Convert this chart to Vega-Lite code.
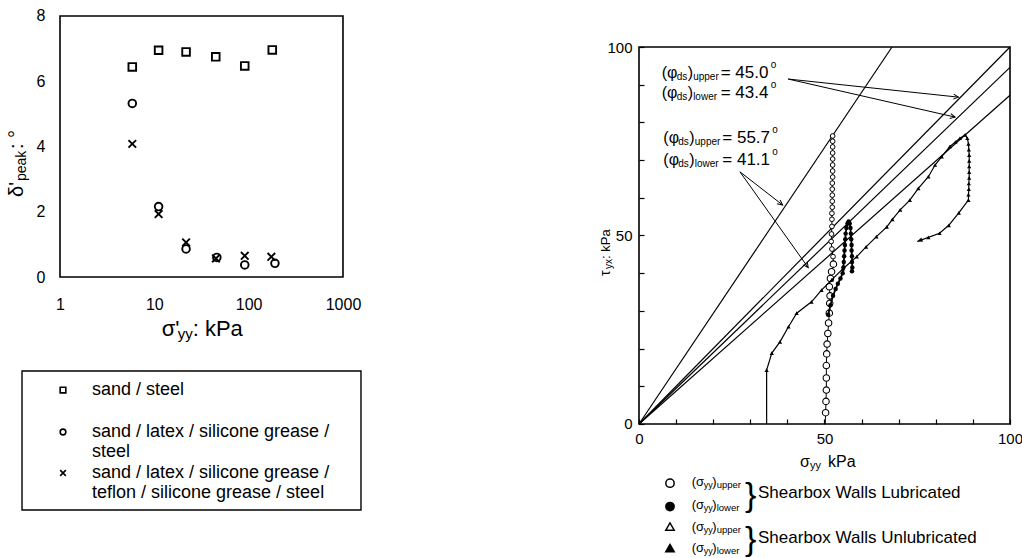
{
"$schema": "https://vega.github.io/schema/vega-lite/v6.json",
"background": "white",
"padding": 0,
"spacing": 0,
"bounds": "flush",
"resolve": {"scale": {"shape": "independent", "fill": "independent", "color": "independent"}},
"config": {"font": "Liberation Sans", "view": {"stroke": null}, "axis": {"labelColor": "black", "labelFont": "Liberation Sans"}, "text": {"color": "black"}},
"datasets": {
"leftFrame": [{"x": 1, "x2": 1000, "y": 0, "y2": 8}],
"leftPts": [
{"series": "steel", "x": 5.84, "y": 6.44}, {"series": "steel", "x": 11.1, "y": 6.95}, {"series": "steel", "x": 21.7, "y": 6.9}, {"series": "steel", "x": 44.8, "y": 6.75}, {"series": "steel", "x": 90.9, "y": 6.47}, {"series": "steel", "x": 178, "y": 6.96},
{"series": "latex", "x": 5.84, "y": 5.32}, {"series": "latex", "x": 11.1, "y": 2.16}, {"series": "latex", "x": 21.7, "y": 0.86}, {"series": "latex", "x": 46, "y": 0.6}, {"series": "latex", "x": 90.9, "y": 0.37}, {"series": "latex", "x": 190, "y": 0.42},
{"series": "teflon", "x": 5.84, "y": 4.08}, {"series": "teflon", "x": 11.1, "y": 1.93}, {"series": "teflon", "x": 21.7, "y": 1.06}, {"series": "teflon", "x": 45, "y": 0.57}, {"series": "teflon", "x": 90.9, "y": 0.65}, {"series": "teflon", "x": 174, "y": 0.62}
],
"leftLegBox": [{"x": 0.3957, "x2": 1552, "y": -2.881, "y2": -7.142}],
"leftLegSym": [{"series": "steel", "x": 1.076, "y": -3.464}, {"series": "latex", "x": 1.076, "y": -4.751}, {"series": "teflon", "x": 1.076, "y": -6.008}],
"leftLegText": [
{"x": 2.184, "y": -3.464, "t": "sand / steel"},
{"x": 2.184, "y": -4.751, "t": "sand / latex / silicone grease /"},
{"x": 2.184, "y": -5.364, "t": "steel"},
{"x": 2.184, "y": -6.008, "t": "sand / latex / silicone grease /"},
{"x": 2.184, "y": -6.621, "t": "teflon / silicone grease / steel"}
],
"leftYTitle": [{"x": 0.35, "y": 2.452}],
"leftXTitle": [{"x": 11.97, "y": -1.6}],
"rFrame": [{"x": 0, "x2": 100, "y": 0, "y2": 100}],
"rLines": [
{"phi": "45.0", "x": 0, "y": 0, "x2": 100, "y2": 100},
{"phi": "43.4", "x": 0, "y": 0, "x2": 100, "y2": 94.6},
{"phi": "41.1", "x": 0, "y": 0, "x2": 100, "y2": 87.2},
{"phi": "55.7", "x": 0, "y": 0, "x2": 68.2, "y2": 100}
],
"rArrows": [
{"x": 40.2, "y": 91.5, "x2": 86.1, "y2": 86.7},
{"x": 40.2, "y": 91.5, "x2": 85.2, "y2": 81.4},
{"x": 27.2, "y": 66.9, "x2": 38.7, "y2": 58.1},
{"x": 27.2, "y": 66.9, "x2": 45.6, "y2": 41.5}
],
"rArrowHeads": [
{"x": 86.1, "y": 86.7, "dir": 6.0},
{"x": 85.2, "y": 81.4, "dir": 12.8},
{"x": 38.7, "y": 58.1, "dir": 38},
{"x": 45.6, "y": 41.5, "dir": 54.6}
],
"upperLub": [
{"o": 1, "x": 50.2, "y": 0}, {"o": 2, "x": 50.3, "y": 3}, {"o": 3, "x": 50.4, "y": 6}, {"o": 4, "x": 50.5, "y": 9}, {"o": 5, "x": 50.5, "y": 12.2}, {"o": 6, "x": 50.5, "y": 15.5}, {"o": 7, "x": 50.6, "y": 18.6}, {"o": 8, "x": 50.7, "y": 21.2}, {"o": 9, "x": 50.9, "y": 24}, {"o": 10, "x": 51.1, "y": 26.8}, {"o": 11, "x": 51.3, "y": 29.4}, {"o": 12, "x": 51.4, "y": 32}, {"o": 13, "x": 51.5, "y": 34}, {"o": 14, "x": 51.3, "y": 36.4}, {"o": 15, "x": 51.6, "y": 38.6}, {"o": 16, "x": 51.9, "y": 40.4}, {"o": 17, "x": 52.4, "y": 42.4}, {"o": 18, "x": 52.3, "y": 44.4}, {"o": 19, "x": 52.0, "y": 46.4}, {"o": 20, "x": 51.8, "y": 48.4}, {"o": 21, "x": 51.9, "y": 50.4}, {"o": 22, "x": 52.0, "y": 52.4}, {"o": 23, "x": 52.0, "y": 54.3}, {"o": 24, "x": 52.0, "y": 55.9}, {"o": 25, "x": 52.1, "y": 57.5}, {"o": 26, "x": 52.1, "y": 59.1}, {"o": 27, "x": 52.1, "y": 60.7}, {"o": 28, "x": 52.1, "y": 62.3}, {"o": 29, "x": 52.1, "y": 63.9}, {"o": 30, "x": 52.2, "y": 65.5}, {"o": 31, "x": 52.2, "y": 67.1}, {"o": 32, "x": 52.2, "y": 68.7}, {"o": 33, "x": 52.2, "y": 70.3}, {"o": 34, "x": 52.2, "y": 71.9}, {"o": 35, "x": 52.2, "y": 73.5}, {"o": 36, "x": 52.2, "y": 75.0}, {"o": 37, "x": 52.2, "y": 76.4}
],
"lowerLub": [
{"o": 1, "x": 51.0, "y": 29}, {"o": 2, "x": 51.6, "y": 31.5}, {"o": 3, "x": 52.3, "y": 34}, {"o": 4, "x": 53.0, "y": 35.8}, {"o": 5, "x": 53.6, "y": 37.2}, {"o": 6, "x": 54.3, "y": 38.6}, {"o": 7, "x": 54.9, "y": 40}, {"o": 8, "x": 55.1, "y": 41.5}, {"o": 9, "x": 55.2, "y": 43}, {"o": 10, "x": 55.3, "y": 44.5}, {"o": 11, "x": 55.4, "y": 46}, {"o": 12, "x": 55.5, "y": 47.5}, {"o": 13, "x": 55.6, "y": 49}, {"o": 14, "x": 55.7, "y": 50.5}, {"o": 15, "x": 55.9, "y": 52}, {"o": 16, "x": 56.2, "y": 53.2}, {"o": 17, "x": 56.5, "y": 53.7}, {"o": 18, "x": 56.8, "y": 53.2}, {"o": 19, "x": 57.0, "y": 52}, {"o": 20, "x": 57.1, "y": 50.5}, {"o": 21, "x": 57.2, "y": 49}, {"o": 22, "x": 57.3, "y": 47.5}, {"o": 23, "x": 57.3, "y": 46}, {"o": 24, "x": 57.4, "y": 44.5}, {"o": 25, "x": 57.4, "y": 43}, {"o": 26, "x": 57.5, "y": 41.5}, {"o": 27, "x": 57.4, "y": 40.5}
],
"lowerUnlub": [
{"o": 1, "x": 34.4, "y": 0}, {"o": 2, "x": 34.4, "y": 14.3}, {"o": 3, "x": 35.8, "y": 18.8}, {"o": 4, "x": 38.0, "y": 21.8}, {"o": 5, "x": 40.3, "y": 25.8}, {"o": 6, "x": 42.5, "y": 29.4}, {"o": 7, "x": 46.5, "y": 32.4}, {"o": 8, "x": 49.2, "y": 35.5}, {"o": 9, "x": 52.0, "y": 38.3}, {"o": 10, "x": 55.0, "y": 41.2}, {"o": 11, "x": 58.7, "y": 44.4}, {"o": 12, "x": 61.2, "y": 47.0}, {"o": 13, "x": 64.0, "y": 49.7}, {"o": 14, "x": 66.8, "y": 52.3}, {"o": 15, "x": 68.3, "y": 54.3}, {"o": 16, "x": 70.4, "y": 56.8}, {"o": 17, "x": 73.0, "y": 59.4}, {"o": 18, "x": 75.3, "y": 62.5}, {"o": 19, "x": 78.0, "y": 65.6}, {"o": 20, "x": 79.8, "y": 68.7}, {"o": 21, "x": 81.6, "y": 70.9}, {"o": 22, "x": 83.8, "y": 73.6}, {"o": 23, "x": 85.3, "y": 74.8}, {"o": 24, "x": 86.5, "y": 75.8}, {"o": 25, "x": 87.9, "y": 76.7}, {"o": 26, "x": 88.5, "y": 75.8}, {"o": 27, "x": 88.8, "y": 74.3}, {"o": 28, "x": 88.9, "y": 72.8}, {"o": 29, "x": 89.0, "y": 71.3}, {"o": 30, "x": 89.0, "y": 69.8}, {"o": 31, "x": 89.0, "y": 68.3}, {"o": 32, "x": 89.0, "y": 66.8}, {"o": 33, "x": 89.0, "y": 65.3}, {"o": 34, "x": 88.9, "y": 63.8}, {"o": 35, "x": 88.9, "y": 62.3}, {"o": 36, "x": 88.8, "y": 60.8}, {"o": 37, "x": 88.8, "y": 59.4}, {"o": 38, "x": 86.2, "y": 56.0}, {"o": 39, "x": 83.5, "y": 52.7}, {"o": 40, "x": 81.0, "y": 50.6}, {"o": 41, "x": 78.0, "y": 49.5}, {"o": 42, "x": 75.0, "y": 48.4}
],
"pathEnd": [{"x": 75.0, "y": 48.4, "dir": 159}],
"phi": [
{"x": 6.1, "y": 93.1, "sub": "upper", "val": "= 45.0"},
{"x": 6.1, "y": 87.7, "sub": "lower", "val": "= 43.4"},
{"x": 6.55, "y": 75.8, "sub": "upper", "val": "= 55.7"},
{"x": 6.55, "y": 70.0, "sub": "lower", "val": "= 41.1"}
],
"rXTitle": [{"x": 43.4, "y": -10.0}],
"rYTitle": [{"x": -8.89, "y": 39.26}],
"rLegSym": [
{"wall": "lubricated", "pos": "upper", "x": 8.36, "y": -15.7},
{"wall": "lubricated", "pos": "lower", "x": 8.36, "y": -21.9},
{"wall": "unlubricated", "pos": "upper", "x": 8.36, "y": -27.2},
{"wall": "unlubricated", "pos": "lower", "x": 8.36, "y": -32.9}
],
"rLegText": [
{"x": 14.2, "y": -15.3, "sub": "upper"},
{"x": 14.2, "y": -21.5, "sub": "lower"},
{"x": 14.2, "y": -27.2, "sub": "upper"},
{"x": 14.2, "y": -32.9, "sub": "lower"}
],
"rBrace": [{"x": 28.6, "y": -19.0}, {"x": 28.6, "y": -30.8}],
"rShear": [
{"x": 32.08, "y": -18.4, "t": "Shearbox Walls Lubricated"},
{"x": 32.08, "y": -30.2, "t": "Shearbox Walls Unlubricated"}
]
},
"hconcat": [
{
"width": 480,
"height": 558,
"encoding": {
"x": {"field": "x", "type": "quantitative", "scale": {"type": "log", "domain": [0.23118, 28350], "nice": false}, "axis": {"orient": "bottom", "offset": -281, "values": [1, 10, 100, 1000], "format": "d", "domain": false, "ticks": false, "grid": false, "labelPadding": 19, "labelFontSize": 16, "labelFlush": false, "labelOverlap": false, "title": null}},
"y": {"field": "y", "type": "quantitative", "scale": {"domain": [-8.613, 8.4904], "nice": false, "zero": false}, "axis": {"orient": "left", "offset": -60, "values": [0, 2, 4, 6, 8], "domain": false, "ticks": false, "grid": false, "labelPadding": 15, "labelFontSize": 16, "labelFlush": false, "labelOverlap": false, "title": null}}
},
"layer": [
{"data": {"name": "leftFrame"}, "mark": {"type": "rect", "filled": false, "color": "black", "strokeWidth": 1.6}, "encoding": {"x2": {"field": "x2"}, "y2": {"field": "y2"}}},
{"data": {"name": "leftPts"}, "mark": {"type": "point", "filled": false, "color": "black", "strokeWidth": 1.9, "size": 58, "opacity": 1}, "encoding": {"shape": {"field": "series", "type": "nominal", "scale": {"domain": ["steel", "latex", "teflon"], "range": ["square", "circle", "M-1,-1L1,1M-1,1L1,-1"]}, "legend": null}}},
{"data": {"name": "leftLegBox"}, "mark": {"type": "rect", "filled": false, "color": "black", "strokeWidth": 1.4}, "encoding": {"x2": {"field": "x2"}, "y2": {"field": "y2"}}},
{"data": {"name": "leftLegSym"}, "mark": {"type": "point", "filled": false, "color": "black", "strokeWidth": 1.6, "size": 32, "opacity": 1}, "encoding": {"shape": {"field": "series", "type": "nominal", "legend": null}}},
{"data": {"name": "leftLegText"}, "mark": {"type": "text", "align": "left", "baseline": "middle", "fontSize": 18}, "encoding": {"text": {"field": "t"}}},
{"data": {"name": "leftYTitle"}, "mark": {"type": "text", "text": "δ'", "angle": 270, "align": "left", "baseline": "middle", "fontSize": 20}},
{"data": {"name": "leftYTitle"}, "mark": {"type": "text", "text": "peak", "angle": 270, "align": "left", "baseline": "middle", "fontSize": 14, "dx": 16, "dy": 5}},
{"data": {"name": "leftYTitle"}, "mark": {"type": "text", "text": ":    °", "angle": 270, "align": "left", "baseline": "middle", "fontSize": 20, "dx": 48}},
{"data": {"name": "leftXTitle"}, "mark": {"type": "text", "text": "σ'", "align": "left", "baseline": "middle", "fontSize": 22}},
{"data": {"name": "leftXTitle"}, "mark": {"type": "text", "text": "yy", "align": "left", "baseline": "middle", "fontSize": 15, "dx": 16, "dy": 5}},
{"data": {"name": "leftXTitle"}, "mark": {"type": "text", "text": ":  kPa", "align": "left", "baseline": "middle", "fontSize": 22, "dx": 31}}
]
},
{
"width": 542,
"height": 558,
"encoding": {
"x": {"field": "x", "type": "quantitative", "scale": {"domain": [-42.857, 103.235], "nice": false, "zero": false}, "axis": {"orient": "bottom", "offset": -134, "values": [0, 10, 20, 30, 40, 50, 60, 70, 80, 90, 100], "labelExpr": "datum.value % 50 === 0 ? datum.label : ''", "domain": false, "ticks": true, "tickSize": -5, "tickWidth": 1.2, "tickColor": "black", "grid": false, "labelPadding": 12, "labelFontSize": 15, "labelFlush": false, "labelOverlap": false, "title": null}},
"y": {"field": "y", "type": "quantitative", "scale": {"domain": [-35.544, 112.467], "nice": false, "zero": false}, "axis": {"orient": "left", "offset": -159, "values": [0, 10, 20, 30, 40, 50, 60, 70, 80, 90, 100], "labelExpr": "datum.value % 50 === 0 ? datum.label : ''", "domain": false, "ticks": true, "tickSize": -5, "tickWidth": 1.2, "tickColor": "black", "grid": false, "labelPadding": 12, "labelFontSize": 15, "labelFlush": false, "labelOverlap": false, "title": null}}
},
"layer": [
{"data": {"name": "rFrame"}, "mark": {"type": "rect", "filled": false, "color": "black", "strokeWidth": 1.6}, "encoding": {"x2": {"field": "x2"}, "y2": {"field": "y2"}}},
{"data": {"name": "rLines"}, "mark": {"type": "rule", "color": "black", "strokeWidth": 1.2}, "encoding": {"x2": {"field": "x2"}, "y2": {"field": "y2"}}},
{"data": {"name": "rArrows"}, "mark": {"type": "rule", "color": "black", "strokeWidth": 1}, "encoding": {"x2": {"field": "x2"}, "y2": {"field": "y2"}}},
{"data": {"name": "rArrowHeads"}, "mark": {"type": "point", "shape": "M-1,-0.5L0,0L-1,0.5", "filled": false, "color": "black", "strokeWidth": 1, "size": 100, "opacity": 1}, "encoding": {"angle": {"field": "dir", "type": "quantitative", "scale": null}}},
{"data": {"name": "upperLub"}, "mark": {"type": "line", "color": "black", "strokeWidth": 1}, "encoding": {"order": {"field": "o", "type": "quantitative"}}},
{"data": {"name": "upperLub"}, "transform": [{"filter": "datum.o > 1 && datum.o <= 17"}], "mark": {"type": "point", "shape": "circle", "filled": true, "fill": "white", "stroke": "black", "strokeWidth": 1.1, "size": 42, "opacity": 1}},
{"data": {"name": "upperLub"}, "transform": [{"filter": "datum.o > 17"}], "mark": {"type": "point", "shape": "circle", "filled": true, "fill": "white", "stroke": "black", "strokeWidth": 1, "size": 22, "opacity": 1}},
{"data": {"name": "lowerLub"}, "mark": {"type": "line", "color": "black", "strokeWidth": 1.8}, "encoding": {"order": {"field": "o", "type": "quantitative"}}},
{"data": {"name": "lowerLub"}, "mark": {"type": "point", "shape": "circle", "filled": true, "color": "black", "size": 20, "opacity": 1}},
{"data": {"name": "lowerUnlub"}, "mark": {"type": "line", "color": "black", "strokeWidth": 1.2}, "encoding": {"order": {"field": "o", "type": "quantitative"}}},
{"data": {"name": "lowerUnlub"}, "transform": [{"filter": "datum.o > 1 && datum.o < 42"}], "mark": {"type": "point", "shape": "triangle-up", "filled": true, "color": "black", "size": 18, "opacity": 1}},
{"data": {"name": "pathEnd"}, "mark": {"type": "point", "shape": "M0,0L-1,-0.45L-1,0.45Z", "filled": true, "color": "black", "size": 110, "opacity": 1}, "encoding": {"angle": {"field": "dir", "type": "quantitative", "scale": null}}},
{"data": {"name": "phi"}, "mark": {"type": "text", "text": "(φ", "align": "left", "baseline": "middle", "fontSize": 16}},
{"data": {"name": "phi"}, "mark": {"type": "text", "text": "ds", "align": "left", "baseline": "middle", "fontSize": 10, "dx": 15, "dy": 4}},
{"data": {"name": "phi"}, "mark": {"type": "text", "text": ")", "align": "left", "baseline": "middle", "fontSize": 16, "dx": 26}},
{"data": {"name": "phi"}, "mark": {"type": "text", "align": "left", "baseline": "middle", "fontSize": 10, "dx": 31.5, "dy": 4}, "encoding": {"text": {"field": "sub"}}},
{"data": {"name": "phi"}, "mark": {"type": "text", "align": "left", "baseline": "middle", "fontSize": 17, "dx": 59}, "encoding": {"text": {"field": "val"}}},
{"data": {"name": "phi"}, "mark": {"type": "text", "text": "o", "align": "left", "baseline": "middle", "fontSize": 10, "dx": 109, "dy": -8}},
{"data": {"name": "rXTitle"}, "mark": {"type": "text", "text": "σ", "align": "left", "baseline": "middle", "fontSize": 16}},
{"data": {"name": "rXTitle"}, "mark": {"type": "text", "text": "yy", "align": "left", "baseline": "middle", "fontSize": 11, "dx": 10, "dy": 4}},
{"data": {"name": "rXTitle"}, "mark": {"type": "text", "text": "kPa", "align": "left", "baseline": "middle", "fontSize": 16, "dx": 28}},
{"data": {"name": "rYTitle"}, "mark": {"type": "text", "text": "τ", "angle": 270, "align": "left", "baseline": "middle", "fontSize": 14}},
{"data": {"name": "rYTitle"}, "mark": {"type": "text", "text": "yx", "angle": 270, "align": "left", "baseline": "middle", "fontSize": 10, "dx": 7, "dy": 3}},
{"data": {"name": "rYTitle"}, "mark": {"type": "text", "text": " : kPa", "angle": 270, "align": "left", "baseline": "middle", "fontSize": 13, "dx": 17}},
{"data": {"name": "rLegSym"}, "mark": {"type": "point", "filled": true, "stroke": "black", "strokeWidth": 1.5, "size": 70, "opacity": 1}, "encoding": {"shape": {"field": "wall", "type": "nominal", "scale": {"domain": ["lubricated", "unlubricated"], "range": ["circle", "triangle-up"]}, "legend": null}, "fill": {"field": "pos", "type": "nominal", "scale": {"domain": ["upper", "lower"], "range": ["white", "black"]}, "legend": null}}},
{"data": {"name": "rLegText"}, "mark": {"type": "text", "text": "(σ", "align": "left", "baseline": "middle", "fontSize": 13}},
{"data": {"name": "rLegText"}, "mark": {"type": "text", "text": "yy", "align": "left", "baseline": "middle", "fontSize": 9, "dx": 12, "dy": 3}},
{"data": {"name": "rLegText"}, "mark": {"type": "text", "text": ")", "align": "left", "baseline": "middle", "fontSize": 13, "dx": 20.5}},
{"data": {"name": "rLegText"}, "mark": {"type": "text", "align": "left", "baseline": "middle", "fontSize": 9.5, "dx": 25, "dy": 3}, "encoding": {"text": {"field": "sub"}}},
{"data": {"name": "rBrace"}, "mark": {"type": "text", "text": "}", "align": "left", "baseline": "middle", "fontSize": 34}},
{"data": {"name": "rShear"}, "mark": {"type": "text", "align": "left", "baseline": "middle", "fontSize": 17}, "encoding": {"text": {"field": "t"}}}
]
}
]
}
